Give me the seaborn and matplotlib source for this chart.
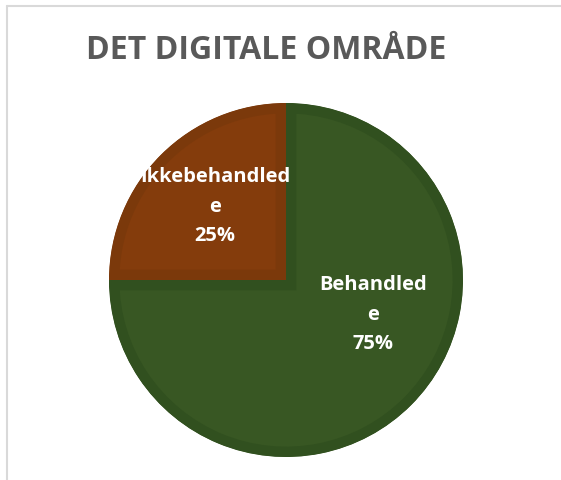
import matplotlib
matplotlib.use("Agg")
import matplotlib.pyplot as plt
from matplotlib.lines import Line2D
import seaborn as sns

# data ---------------------------------------------------------------
categories = ["Behandlede", "Ikkebehandlede"]
values = [75, 25]
fill_colors = ["#385723", "#843c0c"]
edge_colors = ["#31501f", "#7b390b"]
title = "DET DIGITALE OMRÅDE"

sns.set_theme(style="white")
plt.rcParams['font.family'] = ['Open Sans', 'DejaVu Sans']

W, H = 561, 481
fig = plt.figure(figsize=(W / 100, H / 100), dpi=100)
fig.patch.set_facecolor("white")

# pie area (center ~ 286,281 px, radius ~177 px)
cx, cy, r = 286, 281, 177
ax = fig.add_axes([(cx - r) / W, (H - cy - r) / H, 2 * r / W, 2 * r / H])
wedges, _ = ax.pie(values, colors=fill_colors, startangle=90, counterclock=False,
                   radius=1, wedgeprops=dict(linewidth=0))
# inset darker band along each slice border (edge clipped to the slice)
for w, ec in zip(wedges, edge_colors):
    w.set_edgecolor(ec)
    w.set_linewidth(15)
    w.set_clip_path(w.get_path(), w.get_transform())
    w.set_clip_on(True)
ax.set_xlim(-1.0, 1.0)
ax.set_ylim(-1.0, 1.0)
ax.set_aspect("equal")
ax.axis("off")

# data labels
label_pos = {"Behandlede": (0.49, -0.19), "Ikkebehandlede": (-0.40, 0.42)}
total = sum(values)
for name, v in zip(categories, values):
    txt = name[:-1] + "\n" + name[-1] + "\n" + f"{round(100 * v / total)}%"
    x, y = label_pos[name]
    ax.text(x, y, txt, ha="center", va="center", color="white",
            fontsize=14.5, fontweight="bold", linespacing=1.65)

fig.text(266 / W, (H - 51) / H, title, ha="center", va="center",
         fontsize=23, fontweight="bold", color="#595959")

# chart frame lines
fig.add_artist(Line2D([7 / W, 1], [1 - 7 / H, 1 - 7 / H], color="#d9d9d9",
                      linewidth=1.5, transform=fig.transFigure))
fig.add_artist(Line2D([7 / W, 7 / W], [0, 1 - 7 / H], color="#d9d9d9",
                      linewidth=1.5, transform=fig.transFigure))

fig.savefig("out.png", dpi=100, facecolor="white")
